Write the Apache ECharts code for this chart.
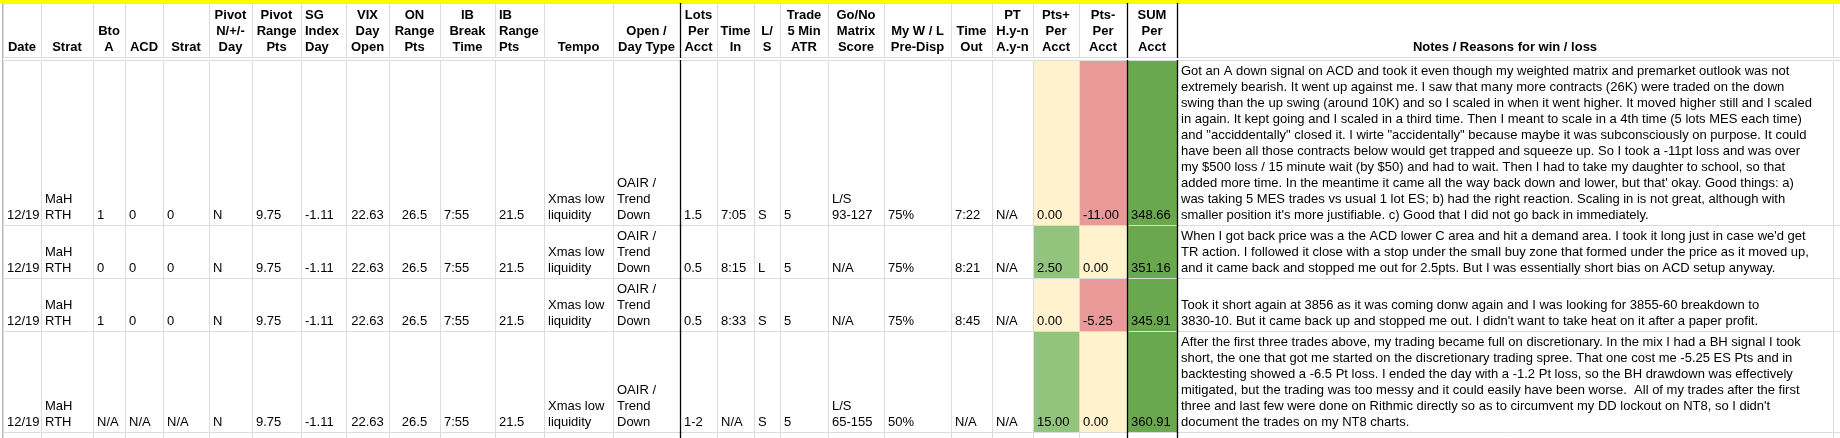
<!DOCTYPE html>
<html>
<head>
<meta charset="utf-8">
<script src="https://cdn.jsdelivr.net/npm/echarts@6/dist/echarts.min.js"></script>
<style>
  html, body { margin: 0; padding: 0; background: #fff; }
  #sheet { width: 1840px; height: 438px; }
</style>
</head>
<body>
<div id="sheet"></div>
<script>
// trade log, one entry per trade
var dates = ['12/19', '12/19', '12/19', '12/19'];
var strats = ['MaH\nRTH', 'MaH\nRTH', 'MaH\nRTH', 'MaH\nRTH'];
var btoA = ['1', '0', '1', 'N/A'];
var acd = ['0', '0', '0', 'N/A'];
var acdStrat = ['0', '0', '0', 'N/A'];
var pivotDay = ['N', 'N', 'N', 'N'];
var pivotRange = [9.75, 9.75, 9.75, 9.75];
var sgIndex = [-1.11, -1.11, -1.11, -1.11];
var vixOpen = [22.63, 22.63, 22.63, 22.63];
var onRange = [26.5, 26.5, 26.5, 26.5];
var ibBreak = ['7:55', '7:55', '7:55', '7:55'];
var ibRange = [21.5, 21.5, 21.5, 21.5];
var tempo = ['Xmas low\nliquidity', 'Xmas low\nliquidity', 'Xmas low\nliquidity', 'Xmas low\nliquidity'];
var dayType = ['OAIR /\nTrend\nDown', 'OAIR /\nTrend\nDown', 'OAIR /\nTrend\nDown', 'OAIR /\nTrend\nDown'];
var lots = ['1.5', '0.5', '0.5', '1-2'];
var timeIn = ['7:05', '8:15', '8:33', 'N/A'];
var side = ['S', 'L', 'S', 'S'];
var atr = [5, 5, 5, 5];
var matrix = ['L/S\n93-127', 'N/A', 'N/A', 'L/S\n65-155'];
var winPct = ['75%', '75%', '75%', '50%'];
var timeOut = ['7:22', '8:21', '8:45', 'N/A'];
var ptHit = ['N/A', 'N/A', 'N/A', 'N/A'];
var ptsPlus = [0, 2.5, 0, 15];
var ptsMinus = [-11, 0, -5.25, 0];
var sumPerAcct = [348.66, 351.16, 345.91, 360.91];
var notes = [
  ['Got an A down signal on ACD and took it even though my weighted matrix and premarket outlook was not',
   'extremely bearish. It went up against me. I saw that many more contracts (26K) were traded on the down',
   'swing than the up swing (around 10K) and so I scaled in when it went higher. It moved higher still and I scaled',
   'in again. It kept going and I scaled in a third time. Then I meant to scale in a 4th time (5 lots MES each time)',
   'and "acciddentally" closed it. I wirte "accidentally" because maybe it was subconsciously on purpose. It could',
   'have been all those contracts below would get trapped and squeeze up. So I took a -11pt loss and was over',
   'my $500 loss / 15 minute wait (by $50) and had to wait. Then I had to take my daughter to school, so that',
   'added more time. In the meantime it came all the way back down and lower, but that\' okay. Good things: a)',
   'was taking 5 MES trades vs usual 1 lot ES; b) had the right reaction. Scaling in is not great, although with',
   'smaller position it\'s more justifiable. c) Good that I did not go back in immediately.'],
  ['When I got back price was a the ACD lower C area and hit a demand area. I took it long just in case we\'d get',
   'TR action. I followed it close with a stop under the small buy zone that formed under the price as it moved up,',
   'and it came back and stopped me out for 2.5pts. But I was essentially short bias on ACD setup anyway.'],
  ['Took it short again at 3856 as it was coming donw again and I was looking for 3855-60 breakdown to',
   '3830-10. But it came back up and stopped me out. I didn\'t want to take heat on it after a paper profit.'],
  ['After the first three trades above, my trading became full on discretionary. In the mix I had a BH signal I took',
   'short, the one that got me started on the discretionary trading spree. That one cost me -5.25 ES Pts and in',
   'backtesting showed a -6.5 Pt loss. I ended the day with a -1.2 Pt loss, so the BH drawdown was effectively',
   'mitigated, but the trading was too messy and it could easily have been worse.  All of my trades after the first',
   'three and last few were done on Rithmic directly so as to circumvent my DD lockout on NT8, so I didn\'t',
   'document the trades on my NT8 charts.']
];

// column headings
var headers = ['Date', 'Strat', 'Bto\nA', 'ACD', 'Strat', 'Pivot\nN/+/-\nDay', 'Pivot\nRange\nPts',
  'SG\nIndex\nDay', 'VIX\nDay\nOpen', 'ON\nRange\nPts', 'IB\nBreak\nTime', 'IB\nRange\nPts', 'Tempo',
  'Open /\nDay Type', 'Lots\nPer\nAcct', 'Time\nIn', 'L/\nS', 'Trade\n5 Min\nATR', 'Go/No\nMatrix\nScore',
  'My W / L\nPre-Disp', 'Time\nOut', 'PT\nH.y-n\nA.y-n', 'Pts+\nPer\nAcct', 'Pts-\nPer\nAcct', 'SUM\nPer\nAcct',
  'Notes / Reasons for win / loss', ''];

var fmt2 = function (v) { return v.toFixed(2); };
var columns = [dates, strats, btoA, acd, acdStrat, pivotDay, pivotRange, sgIndex, vixOpen, onRange,
  ibBreak, ibRange, tempo, dayType, lots, timeIn, side, atr, matrix, winPct, timeOut, ptHit,
  ptsPlus.map(fmt2), ptsMinus.map(fmt2), sumPerAcct.map(fmt2),
  notes.map(function (l) { return l.join('\n'); }), null];

// sheet layout (pixels)
var colWidths = [38, 52, 32, 38, 46, 43, 49, 45, 43, 51, 55, 49, 69, 67, 37, 37, 26, 48, 56, 67, 41, 41, 46, 48, 50, 656, 10];
var headAlign = ['c','c','c','c','c','c','c','l','c','c','c','l','c','c','c','c','c','c','c','c','c','c','c','c','c','c','c'];
var cellAlign = ['l','l','l','l','l','l','l','l','c','c','l','l','l','l','l','l','l','l','l','l','l','l','l','l','l','l','l'];
var rowEdges = [3, 57, 60, 225, 278, 331, 432, 438]; // header, separator, 4 trades, next row
var heavyCols = [13, 23, 24];

var colEdges = [3];
colWidths.forEach(function (w, i) { colEdges.push(colEdges[i] + w); });

var FONT = '13px "Liberation Sans", Arial, sans-serif';
var cream = '#fff2cc', pink = '#ea9999', lightGreen = '#93c47d', green = '#6aa84f';

function cellFill(c, t) {
  if (c === 22) return ptsPlus[t] > 0 ? lightGreen : cream;
  if (c === 23) return ptsMinus[t] < 0 ? pink : cream;
  if (c === 24) return green;
  return '#fff';
}

var cells = [];
for (var c = 0; c < colWidths.length; c++) {
  cells.push({ value: [c, 0], text: headers[c], head: true, fill: '#fff' });
  for (var t = 0; t < 4; t++) {
    cells.push({ value: [c, t + 2], text: columns[c] ? String(columns[c][t]) : '', fill: cellFill(c, t) });
  }
  cells.push({ value: [c, 6], text: '', fill: '#fff' });
}

function renderCell(params, api) {
  var d = cells[params.dataIndex];
  var c = api.value(0), r = api.value(1);
  var p0 = api.coord([colEdges[c], rowEdges[r]]);
  var p1 = api.coord([colEdges[c + 1], rowEdges[r + 1]]);
  var align = (d.head ? headAlign : cellAlign)[c];
  var tx = align === 'c' ? (p0[0] + p1[0]) / 2 : p0[0] + 4;
  var children = [{
    type: 'rect', z2: 0,
    shape: { x: p0[0] + 0.5, y: p0[1] + 0.5, width: p1[0] - p0[0], height: p1[1] - p0[1] },
    style: { fill: d.fill, stroke: '#dcdcdc', lineWidth: 1 }
  }];
  if (d.text) {
    children.push({
      type: 'text', z2: 10,
      style: {
        text: d.text, x: tx, y: p1[1] - 2,
        font: (d.head ? 'bold ' : '') + FONT, fill: '#000',
        align: align === 'c' ? 'center' : 'left', verticalAlign: 'bottom', lineHeight: 16
      }
    });
  }
  if (heavyCols.indexOf(c) >= 0 && r !== 1) {
    children.push({
      type: 'line', z2: 20,
      shape: { x1: p1[0] + 0.5, y1: p0[1], x2: p1[0] + 0.5, y2: p1[1] + 1 },
      style: { stroke: '#000', lineWidth: 1.3 }
    });
  }
  if (r === 1) {
    children[0].style.fill = '#dadce0';
    children[0].style.stroke = null;
    children.push({
      type: 'line', z2: 20,
      shape: { x1: p0[0], y1: p0[1], x2: p1[0] + 1, y2: p0[1] },
      style: { stroke: '#000', lineWidth: 2 }
    });
  }
  return { type: 'group', children: children };
}

// yellow band at the top and frozen row-header strip
var bands = [{ value: [0, 0], kind: 'yellow' }, { value: [0, 1], kind: 'edge' }];
function renderBand(params, api) {
  var b = bands[params.dataIndex];
  if (b.kind === 'yellow') {
    var a = api.coord([0, 0]), z = api.coord([1840, rowEdges[0]]);
    return { type: 'rect', shape: { x: a[0], y: a[1], width: z[0] - a[0], height: z[1] - a[1] },
      style: { fill: '#ffff00' } };
  }
  var s = api.coord([colEdges[0], rowEdges[0]]), e = api.coord([colEdges[0], 438]);
  return { type: 'line', shape: { x1: s[0] - 0.5, y1: s[1], x2: e[0] - 0.5, y2: e[1] },
    style: { stroke: '#b7b7b7', lineWidth: 1 } };
}

var chart = echarts.init(document.getElementById('sheet'));
chart.setOption({
  animation: false,
  grid: { left: 0, right: 0, top: 0, bottom: 0 },
  xAxis: { type: 'value', min: 0, max: 1840, show: false },
  yAxis: { type: 'value', min: 0, max: 438, inverse: true, show: false },
  series: [
    { type: 'custom', renderItem: renderCell, data: cells.map(function (d) { return d.value; }), clip: false, silent: true, z: 2 },
    { type: 'custom', renderItem: renderBand, data: bands.map(function (d) { return d.value; }), clip: false, silent: true, z: 3 }
  ]
});
</script>
</body>
</html>
